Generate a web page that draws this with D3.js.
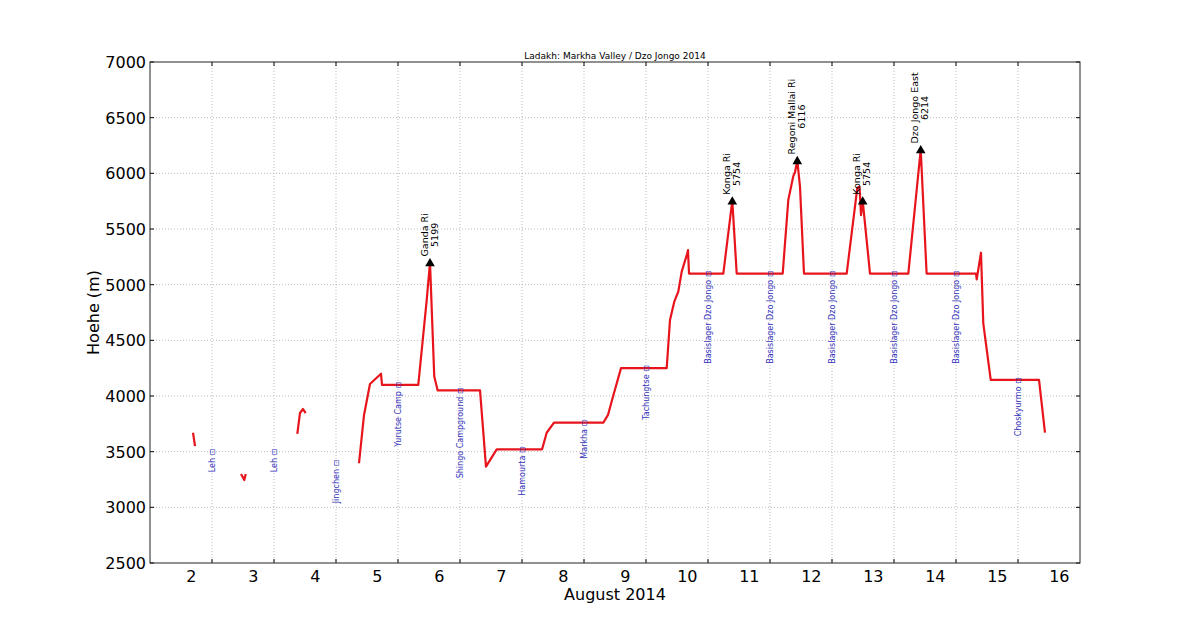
<!DOCTYPE html>
<html>
<head>
<meta charset="utf-8">
<script src="https://cdn.jsdelivr.net/npm/d3@7"></script>
<style>
  body { margin: 0; background: #fff; }
  text { font-family: "DejaVu Sans", sans-serif; }
</style>
</head>
<body>
<div id="chart"></div>
<script>
// Track data: x = day of August 2014 (fractional), y = elevation in m
var trackSegments = [
    [[1.694, 3670], [1.726, 3550]],
    [[2.468, 3300], [2.521, 3245], [2.544, 3300]],
    [[3.376, 3659], [3.419, 3847], [3.468, 3883], [3.511, 3847]],
    [[4.371, 3396], [4.452, 3830], [4.548, 4108], [4.726, 4200], [4.742, 4100],
     [5.327, 4100], [5.463, 4862], [5.516, 5199], [5.585, 4175], [5.640, 4050],
     [6.323, 4050], [6.419, 3365], [6.592, 3520], [7.323, 3520], [7.398, 3670],
     [7.516, 3760], [8.311, 3760], [8.387, 3830], [8.468, 3995], [8.597, 4250],
     [9.334, 4250], [9.387, 4683], [9.456, 4847], [9.521, 4937], [9.576, 5117],
     [9.666, 5282], [9.677, 5310], [9.694, 5100], [10.247, 5100], [10.392, 5754],
     [10.463, 5100], [11.205, 5100], [11.295, 5760], [11.376, 5975], [11.403, 6010],
     [11.440, 6116], [11.484, 5880], [11.548, 5100], [12.237, 5100], [12.408, 5870],
     [12.444, 5880], [12.468, 5625], [12.495, 5754], [12.613, 5100], [13.231, 5100],
     [13.431, 6214], [13.526, 5100], [14.323, 5100], [14.334, 5048], [14.403, 5287],
     [14.440, 4653], [14.560, 4144], [15.339, 4144], [15.435, 3671]]
];

var peakNames = ['Ganda Ri', 'Konga Ri', 'Regoni Mallai Ri', 'Konga Ri', 'Dzo Jongo East'];
var peakDays = [5.516, 10.392, 11.440, 12.495, 13.431];
var peakHeights = [5199, 5754, 6116, 5754, 6214];

var placeNames = ['Leh', 'Leh', 'Jingchen', 'Yurutse Camp', 'Shingo Campground', 'Hamourta',
    'Markha', 'Tachungtse', 'Basislager Dzo Jongo', 'Basislager Dzo Jongo',
    'Basislager Dzo Jongo', 'Basislager Dzo Jongo', 'Basislager Dzo Jongo', 'Choskyurmo'];
var placeDays = [2, 3, 4, 5, 6, 7, 8, 9, 10, 11, 12, 13, 14, 15];
var placeHeights = [3500, 3500, 3400, 4100, 4050, 3520, 3760, 4250, 5100, 5100, 5100, 5100, 5100, 4140];

var dayTicks = [2, 3, 4, 5, 6, 7, 8, 9, 10, 11, 12, 13, 14, 15, 16];
var heightTicks = [2500, 3000, 3500, 4000, 4500, 5000, 5500, 6000, 6500, 7000];

var margin = {top: 62, right: 120, bottom: 63, left: 150},
    width = 1200 - margin.left - margin.right,
    height = 626 - margin.top - margin.bottom;

var svg = d3.select('#chart').append('svg')
    .attr('width', 1200)
    .attr('height', 626);

var g = svg.append('g').attr('transform', 'translate(' + margin.left + ',' + margin.top + ')');

var x = d3.scaleLinear().domain([1, 16]).range([0, width]);
var y = d3.scaleLinear().domain([2500, 7000]).range([height, 0]);

// grid
var gridDays = d3.range(2, 16);
g.selectAll('.vgrid').data(gridDays).enter().append('line')
    .attr('x1', d => x(d)).attr('x2', d => x(d))
    .attr('y1', 0).attr('y2', height)
    .style('stroke', '#aaa').style('stroke-width', 0.8).style('stroke-dasharray', '1,2');
g.selectAll('.hgrid').data(heightTicks.slice(1, -1)).enter().append('line')
    .attr('x1', 0).attr('x2', width)
    .attr('y1', d => y(d)).attr('y2', d => y(d))
    .style('stroke', '#aaa').style('stroke-width', 0.8).style('stroke-dasharray', '1,2');

// inward tick marks, all four sides
var tickLen = 4;
gridDays.forEach(function(d){
    g.append('line').attr('x1', x(d)).attr('x2', x(d)).attr('y1', height).attr('y2', height - tickLen).style('stroke', '#000');
    g.append('line').attr('x1', x(d)).attr('x2', x(d)).attr('y1', 0).attr('y2', tickLen).style('stroke', '#000');
});
heightTicks.forEach(function(d){
    g.append('line').attr('x1', 0).attr('x2', tickLen).attr('y1', y(d)).attr('y2', y(d)).style('stroke', '#000');
    g.append('line').attr('x1', width).attr('x2', width - tickLen).attr('y1', y(d)).attr('y2', y(d)).style('stroke', '#000');
});

// tick labels
g.selectAll('.xlab').data(dayTicks).enter().append('text')
    .attr('x', d => x(d - 1 / 3)).attr('y', height + 19)
    .attr('text-anchor', 'middle')
    .style('font-size', '16px')
    .text(d => d);
g.selectAll('.ylab').data(heightTicks).enter().append('text')
    .attr('x', -4).attr('y', d => y(d) + 6)
    .attr('text-anchor', 'end')
    .style('font-size', '16px')
    .text(d => d);

// axis titles
g.append('text').attr('x', width / 2).attr('y', height + 37)
    .attr('text-anchor', 'middle').style('font-size', '16px').text('August 2014');
g.append('text').attr('transform', 'translate(-51,' + (height / 2) + ') rotate(-90)')
    .attr('text-anchor', 'middle').style('font-size', '16px').text('Hoehe (m)');
g.append('text').attr('x', width / 2).attr('y', -3)
    .attr('text-anchor', 'middle').style('font-size', '9px').text('Ladakh: Markha Valley / Dzo Jongo 2014');

// track
var line = d3.line().x(d => x(d[0])).y(d => y(d[1]));
g.selectAll('.track').data(trackSegments).enter().append('path')
    .attr('d', line)
    .style('fill', 'none')
    .style('stroke', '#e8141c')
    .style('stroke-width', 2.2)
    .style('stroke-linejoin', 'round');

// place labels
placeNames.forEach(function(name, i){
    g.append('text')
        .attr('transform', 'translate(' + x(placeDays[i]) + ',' + (y(placeHeights[i]) - 3) + ') rotate(-90)')
        .attr('text-anchor', 'end')
        .attr('dy', '0.35em')
        .style('font-size', '8px')
        .style('fill', '#3333bb')
        .text(name + ' \u22a1');
});

// peak markers and labels (two centred lines, block sits above the marker)
var tri = d3.symbol().type(d3.symbolTriangle).size(40);
peakNames.forEach(function(name, i){
    var px = x(peakDays[i]), py = y(peakHeights[i]);
    g.append('path').attr('d', tri).attr('transform', 'translate(' + px + ',' + (py + 1) + ')').style('fill', '#000');
    var t = g.append('text')
        .attr('text-anchor', 'middle')
        .style('font-size', '9.5px');
    var l1 = t.append('tspan').attr('x', 0).attr('dy', '-0.25em').text(name);
    var l2 = t.append('tspan').attr('x', 0).attr('dy', '1.05em').text(peakHeights[i]);
    var len = Math.max(l1.node().getComputedTextLength(), l2.node().getComputedTextLength());
    t.attr('transform', 'translate(' + px + ',' + (py - 6 - len / 2) + ') rotate(-90)');
});

// frame
g.append('rect').attr('width', width).attr('height', height)
    .style('fill', 'none').style('stroke', '#222').style('stroke-width', 1);
</script>
</body>
</html>
